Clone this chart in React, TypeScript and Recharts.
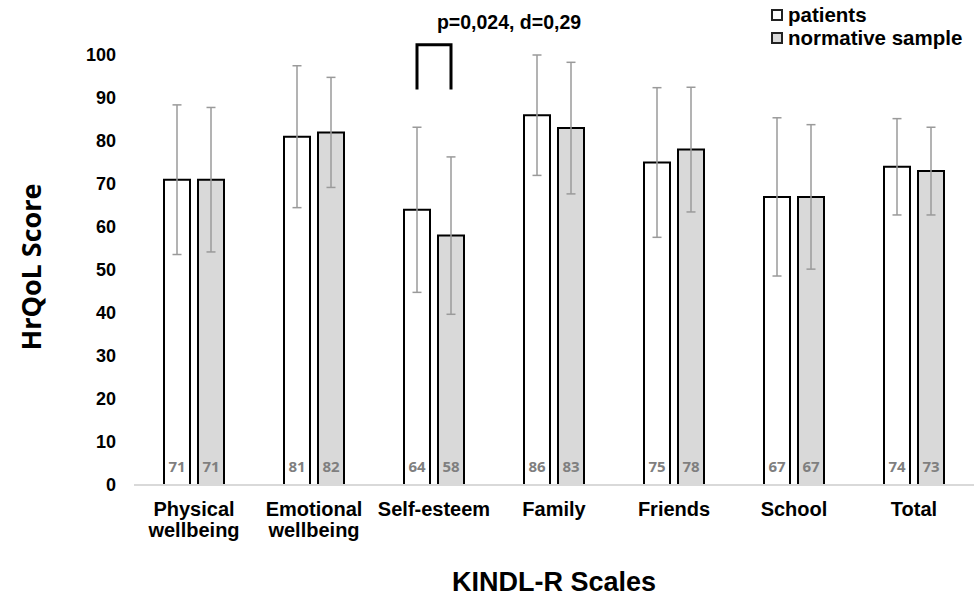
import { BarChart, Bar, XAxis, YAxis, ErrorBar, LabelList, Legend } from "recharts";

const ARIAL = "'Liberation Sans', Arial, sans-serif";
const CALIBRI = "'Open Sans', sans-serif";

// KINDL-R scales, means and SDs
const SCALES = ["Physical wellbeing", "Emotional wellbeing", "Self-esteem", "Family", "Friends", "School", "Total"];
const PATIENTS = [71, 81, 64, 86, 75, 67, 74];
const PATIENTS_SD = [17.4, 16.5, 19.2, 14, 17.4, 18.4, 11.2];
const NORMATIVE = [71, 82, 58, 83, 78, 67, 73];
const NORMATIVE_SD = [16.8, 12.8, 18.3, 15.3, 14.5, 16.8, 10.2];
const Y_TICKS = [0, 10, 20, 30, 40, 50, 60, 70, 80, 90, 100];

// significance bracket over Self-esteem
const SIG_INDEX = 2;
const SIG_TEXT = "p=0,024, d=0,29";
const BRACKET_TOP = 102.4;
const BRACKET_BOTTOM = 92;

const BAR_SIZE = 26;
const BAR_GAP = 8;

const data = SCALES.map((scale, i) => ({
  scale,
  patients: PATIENTS[i],
  patientsSd: PATIENTS_SD[i],
  normative: NORMATIVE[i],
  normativeSd: NORMATIVE_SD[i],
}));

const SERIES = [
  { key: "patients", name: "patients", fill: "#ffffff" },
  { key: "normative", name: "normative sample", fill: "#d9d9d9" },
];

function valueText(x: number, y: number, width: number, height: number, value: any) {
  return (
    <text x={x + width / 2} y={y + height - 13} textAnchor="middle" fill="#7f7f7f"
      fontSize={15} fontWeight={700} fontFamily={CALIBRI}>{value}</text>
  );
}

const normLabel = (p: any) => {
  const { x, y, width, height, value } = p;
  return valueText(x, y, width, height, value);
};

const patientLabel = (p: any) => {
  const { x, y, width, height, value, index } = p;
  if (index !== SIG_INDEX) return valueText(x, y, width, height, value);
  const ppu = height / value;
  const base = y + height;
  const x1 = x + width / 2;
  const x2 = x1 + width + BAR_GAP;
  const yTop = base - BRACKET_TOP * ppu;
  const yBot = base - BRACKET_BOTTOM * ppu;
  return (
    <g>
      {valueText(x, y, width, height, value)}
      <path d={`M${x1},${yBot}V${yTop}H${x2}V${yBot}`} stroke="#000" strokeWidth={3} fill="none" />
      <text x={(x1 + x2) / 2 + 75} y={yTop - 16} textAnchor="middle" fontSize={19.5}
        fontWeight={700} fontFamily={ARIAL} fill="#000">{SIG_TEXT}</text>
    </g>
  );
};

const ScaleTick = ({ x, y, payload }: any) => (
  <text x={x} y={y} textAnchor="middle" fontSize={20} fontWeight={700} fontFamily={ARIAL} fill="#000">
    {String(payload.value).split(" ").map((w, i) => (
      <tspan key={i} x={x} dy={i === 0 ? 31 : 21}>{w}</tspan>
    ))}
  </text>
);

const LegendBox = () => (
  <div style={{ fontFamily: ARIAL, fontSize: 20.5, fontWeight: 700, lineHeight: "23px", color: "#000" }}>
    {SERIES.map((s) => (
      <div key={s.key} style={{ display: "flex", alignItems: "center" }}>
        <span style={{ display: "inline-block", width: 8, height: 8, border: "2px solid #222", background: s.fill, marginRight: 5 }} />
        {s.name}
      </div>
    ))}
  </div>
);

export default function App() {
  return (
    <div style={{ position: "absolute", left: 0, top: 0, width: 978, height: 598, background: "#fff" }}>
      <BarChart width={978} height={598} data={data} barSize={BAR_SIZE} barGap={BAR_GAP}
        margin={{ top: 55, right: 4, bottom: 0, left: 0 }}>
        <XAxis dataKey="scale" height={113} tickLine={false} tickSize={0} tickMargin={0}
          axisLine={{ stroke: "#d9d9d9", strokeWidth: 2 }} tick={<ScaleTick />} interval={0}
          label={{
            content: ({ viewBox }: any) => (
              <text x={viewBox.x + viewBox.width / 2} y={viewBox.y + 106} textAnchor="middle"
                fontSize={27} fontWeight={700} fontFamily={ARIAL} fill="#000">KINDL-R Scales</text>
            ),
          }} />
        <YAxis width={134} domain={[0, 100]} ticks={Y_TICKS} interval={0} axisLine={false} tickLine={false}
          tickSize={0} tickMargin={18}
          tick={{ fill: "#000", fontSize: 18, fontWeight: 700, fontFamily: ARIAL }}
          label={{
            content: ({ viewBox }: any) => (
              <text transform={`translate(30,${viewBox.y + viewBox.height / 2 - 3}) rotate(-90)`} textAnchor="middle"
                dominantBaseline="central" fontSize={27} fontWeight={700} fontFamily={CALIBRI} fill="#000">HrQoL Score</text>
            ),
          }} />
        <Legend content={<LegendBox />} verticalAlign="middle" layout="horizontal"
          wrapperStyle={{ top: 3, left: 771, width: "auto" }} />
        <Bar dataKey="patients" name="patients" fill="#ffffff" stroke="#000" strokeWidth={2} isAnimationActive={false}>
          <ErrorBar dataKey="patientsSd" width={4.5} stroke="#9a9a9a" strokeWidth={1.5} />
          <LabelList dataKey="patients" content={patientLabel} />
        </Bar>
        <Bar dataKey="normative" name="normative sample" fill="#d9d9d9" stroke="#000" strokeWidth={2} isAnimationActive={false}>
          <ErrorBar dataKey="normativeSd" width={4.5} stroke="#9a9a9a" strokeWidth={1.5} />
          <LabelList dataKey="normative" content={normLabel} />
        </Bar>
      </BarChart>
    </div>
  );
}
